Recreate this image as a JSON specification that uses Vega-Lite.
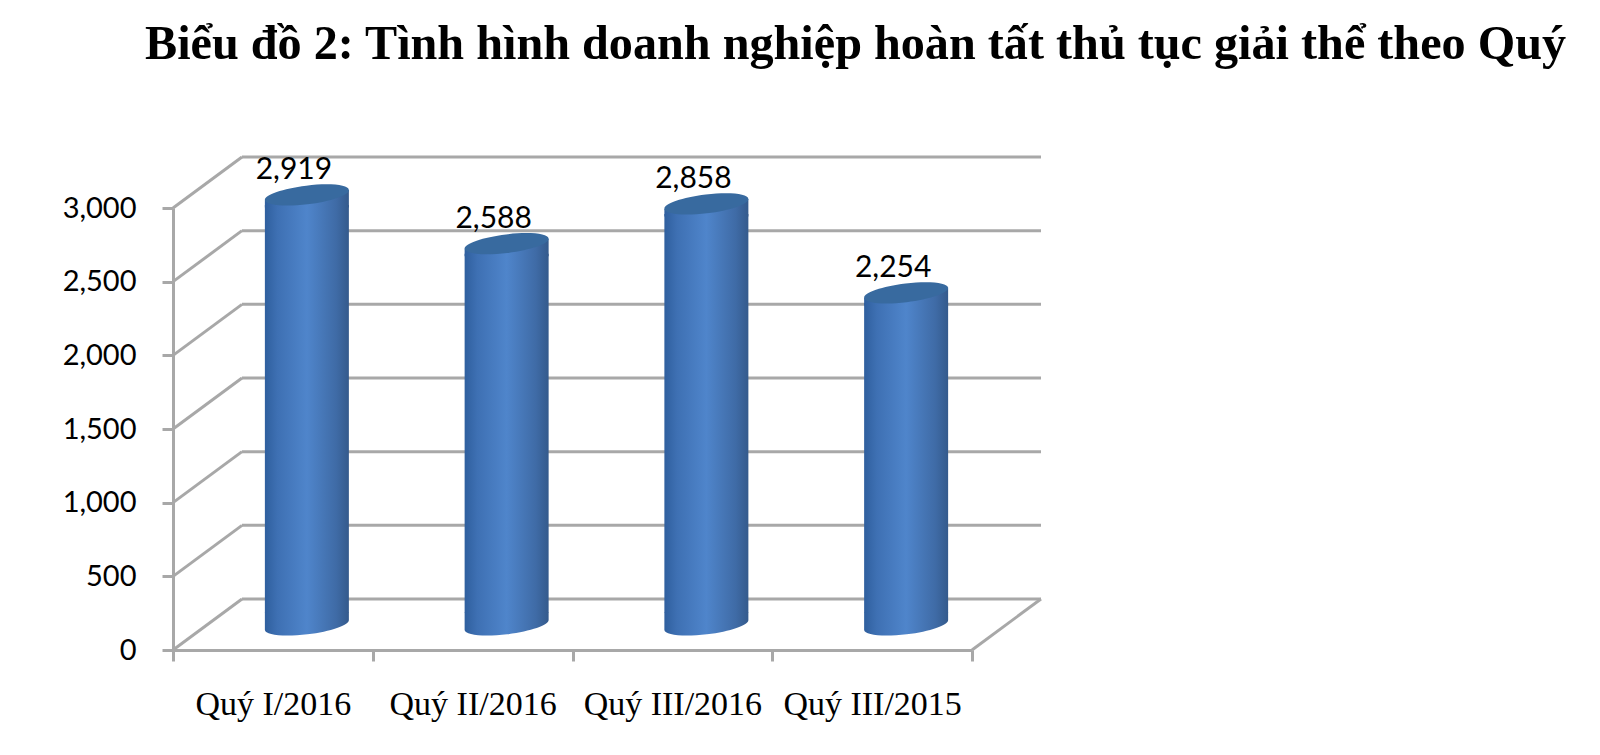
{
"$schema":"https://vega.github.io/schema/vega-lite/v6.json",
"autosize":{"type":"none"},
"padding":{"left":173,"top":208,"right":628,"bottom":105},
"width":799,"height":442,
"background":"white",
"title":{"text":"Biểu đồ 2: Tình hình doanh nghiệp hoàn tất thủ tục giải thể theo Quý","anchor":"start","frame":"group","font":"Liberation Serif","fontWeight":"bold","fontSize":48.2,"color":"#000000","dx":-28,"offset":48,"baseline":"alphabetic"},
"config":{"view":{"stroke":null}},
"datasets":{
"bars":[
{"quarter":"Quý I/2016","value":2919},
{"quarter":"Quý II/2016","value":2588},
{"quarter":"Quý III/2016","value":2858},
{"quarter":"Quý III/2015","value":2254}],
"grid":[{"v":0},{"v":500},{"v":1000},{"v":1500},{"v":2000},{"v":2500},{"v":3000}]
},
"resolve":{"scale":{"x":"independent"}},
"layer":[
{"data":{"name":"grid"},
 "mark":{"type":"rule","color":"#a8a8a8","strokeWidth":3,"xOffset":69,"x2Offset":69,"yOffset":-51,"y2Offset":-51},
 "encoding":{"x":{"datum":0,"type":"quantitative","scale":{"domain":[0,4]},"axis":null},"x2":{"datum":4},
  "y":{"field":"v","type":"quantitative","scale":{"domain":[0,3000]},
   "axis":{"title":null,"values":[0,500,1000,1500,2000,2500,3000],"format":",.0f","labelFont":"Lato","labelFontSize":29,"labelColor":"#000000","labelPadding":26,"tickSize":11,"tickColor":"#a8a8a8","tickWidth":3,"domainColor":"#a8a8a8","domainWidth":3,"grid":false}},"y2":{"field":"v"}}},
{"data":{"name":"grid"},
 "mark":{"type":"rule","color":"#a8a8a8","strokeWidth":3,"x2Offset":69,"y2Offset":-51},
 "encoding":{"x":{"datum":0,"type":"quantitative","scale":{"domain":[0,4]},"axis":null},"x2":{"datum":0},
  "y":{"field":"v","type":"quantitative","scale":{"domain":[0,3000]}},"y2":{"field":"v"}}},
{"data":{"values":[{"v":0}]},
 "mark":{"type":"rule","color":"#a8a8a8","strokeWidth":3,"x2Offset":69,"y2Offset":-51},
 "encoding":{"x":{"datum":4,"type":"quantitative","scale":{"domain":[0,4]},"axis":null},"x2":{"datum":4},
  "y":{"field":"v","type":"quantitative","scale":{"domain":[0,3000]}},"y2":{"field":"v"}}},
{"data":{"name":"bars"},
 "encoding":{
  "x":{"field":"quarter","type":"nominal","sort":null,"scale":{"paddingInner":0,"paddingOuter":0},
   "axis":{"title":null,"labelAngle":0,"labelFont":"Liberation Serif","labelFontSize":34,"labelColor":"#000000","labelPadding":26,"labelLimit":0,"labelOverlap":false,"labelBaseline":"top","tickBand":"extent","tickSize":11,"tickColor":"#a8a8a8","tickWidth":3,"domainColor":"#a8a8a8","domainWidth":3,"grid":false}},
  "y":{"field":"value","type":"quantitative","scale":{"domain":[0,3000]}}
 },
 "layer":[
  {"mark":{"type":"point","filled":true,"opacity":1,"size":7056,"xOffset":34,"yOffset":-25,"shape":"M -1 -0.3 L 1 -0.3 L 1 -0.12 A 1 0.22 -7 0 1 -1 0.12 Z",
    "fill":{"x1":0,"y1":0,"x2":1,"y2":0,"gradient":"linear","stops":[{"offset":0,"color":"#2f5f9e"},{"offset":0.15,"color":"#3e70b3"},{"offset":0.5,"color":"#4f85cb"},{"offset":0.85,"color":"#3f6ba6"},{"offset":1,"color":"#345a8c"}]}},
   "encoding":{"y":{"datum":0,"type":"quantitative"}}},
  {"mark":{"type":"bar","width":84,"xOffset":34,"yOffset":-15,"y2Offset":-37,
    "fill":{"x1":0,"y1":0,"x2":1,"y2":0,"gradient":"linear","stops":[{"offset":0,"color":"#2f5f9e"},{"offset":0.15,"color":"#3e70b3"},{"offset":0.5,"color":"#4f85cb"},{"offset":0.85,"color":"#3f6ba6"},{"offset":1,"color":"#345a8c"}]}},
   "encoding":{"y2":{"datum":0}}},
  {"mark":{"type":"point","filled":true,"opacity":1,"size":7056,"xOffset":34,"yOffset":-25,"shape":"M -1 0.12 L 1 -0.12 L 1 0.3 L -1 0.3 Z",
    "fill":{"x1":0,"y1":0,"x2":1,"y2":0,"gradient":"linear","stops":[{"offset":0,"color":"#2f5f9e"},{"offset":0.15,"color":"#3e70b3"},{"offset":0.5,"color":"#4f85cb"},{"offset":0.85,"color":"#3f6ba6"},{"offset":1,"color":"#345a8c"}]}}},
  {"mark":{"type":"point","filled":true,"opacity":1,"size":7056,"xOffset":34,"yOffset":-25,"color":"#386a9f","shape":"M -1 0.12 A 1 0.22 -7 1 1 1 -0.12 A 1 0.22 -7 1 1 -1 0.12 Z"}},
  {"mark":{"type":"text","font":"Lato","fontSize":30,"color":"#000000","dx":21,"dy":-50,"baseline":"middle","align":"center"},
   "encoding":{"text":{"field":"value","type":"quantitative","format":","}}}
 ]}
]
}
